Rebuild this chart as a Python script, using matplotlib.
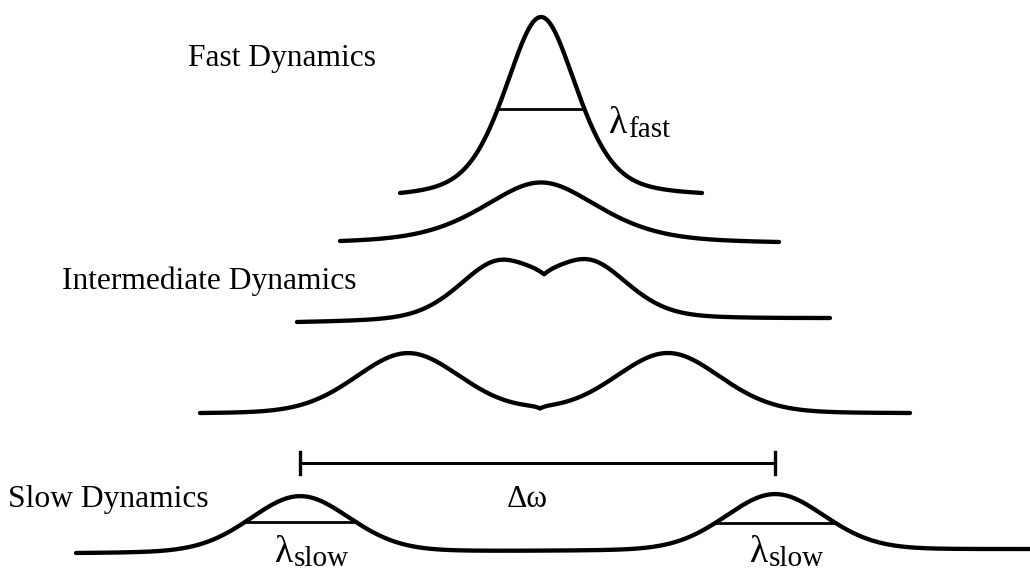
import numpy as np
import matplotlib.pyplot as plt

# spectra from top (fast exchange) to bottom (slow exchange), screen units
x_left = [400, 340, 297, 200, 76]
x_right = [702, 779, 830, 910, 1030]
y_left = [193, 241, 322, 413, 553]
y_right = [193, 242, 318, 413, 549]
peak_height = [176, 59, 61, 60, 56]
peak_pos = [[541], [541], [497, 590], [408, 668], [300, 775]]
hwhm = [43, 70, 47, 62, 59]
lorentz_frac = [0.45, 0.5, 0.35, 0.15, 0.15]
notch_pos = [0, 0, 544, 540, 0]
notch_depth = [0, 0, 9, 3, 0]
notch_width = [1, 1, 10, 5, 1]

# linewidth markers: (spectrum, peak, level)
half_trace = [0, 4, 4]
half_peak = [541, 300, 775]
half_level = [109, 522, 523]

# spectrum labels
labels = ['Fast Dynamics', 'Intermediate Dynamics', 'Slow Dynamics']
label_x = [188, 62, 8]
label_y = [66, 289, 507]

plt.rcParams['font.family'] = ['Liberation Serif', 'DejaVu Serif']

fig = plt.figure(figsize=(10.30, 5.73), dpi=100)
ax = fig.add_axes([0, 0, 1, 1])
ax.set_xlim(0, 1030)
ax.set_ylim(573, 0)
ax.axis('off')


def spectrum(k):
    x = np.linspace(x_left[k], x_right[k], 1200)
    s = np.zeros_like(x)
    for c in peak_pos[k]:
        u2 = ((x - c) / hwhm[k]) ** 2
        eta = lorentz_frac[k]
        s += (1 - eta) * np.exp(-np.log(2) * u2) + eta / (1 + u2)
    # pull the ends down to the baseline, then scale to the drawn height
    s -= np.linspace(s[0], s[-1], len(s))
    s = s / s.max() * peak_height[k]
    s -= notch_depth[k] * np.exp(-np.abs(x - notch_pos[k]) / notch_width[k])
    base = np.linspace(y_left[k], y_right[k], len(x))
    return x, base - s


curves = [spectrum(k) for k in range(len(x_left))]
for x, y in curves:
    ax.plot(x, y, color='black', lw=3.1, solid_capstyle='round')

# half-height widths
for k, c, lev in zip(half_trace, half_peak, half_level):
    x, y = curves[k]
    i = np.argmin(np.abs(x - c))
    lo, hi = i, i
    while lo > 0 and y[lo - 1] <= lev:
        lo -= 1
    while hi < len(x) - 1 and y[hi + 1] <= lev:
        hi += 1
    ax.plot([x[lo], x[hi]], [lev, lev], color='black', lw=2.0)

# splitting between the two slow-exchange lines
c1, c2 = peak_pos[4]
bar_y = 463
ax.plot([c1, c2], [bar_y, bar_y], color='black', lw=2.2)
for c in (c1, c2):
    ax.plot([c, c], [bar_y - 11, bar_y + 11], color='black', lw=2.4)
ax.text((c1 + c2) / 2 - 10, 507, 'Δω', fontsize=22.7, ha='center', va='baseline')

for t, tx, ty in zip(labels, label_x, label_y):
    ax.text(tx, ty, t, fontsize=22.7, ha='left', va='baseline')

# lambda labels for the linewidths
lam_x = [609, 275, 750]
lam_y = [133, 562, 562]
lam_sub = ['fast', 'slow', 'slow']
for lx, ly, sub in zip(lam_x, lam_y, lam_sub):
    ax.text(lx, ly, 'λ', fontsize=27, ha='left', va='baseline')
    ax.text(lx + 19, ly + 4, sub, fontsize=21, ha='left', va='baseline')

fig.savefig('out.png', dpi=100)
